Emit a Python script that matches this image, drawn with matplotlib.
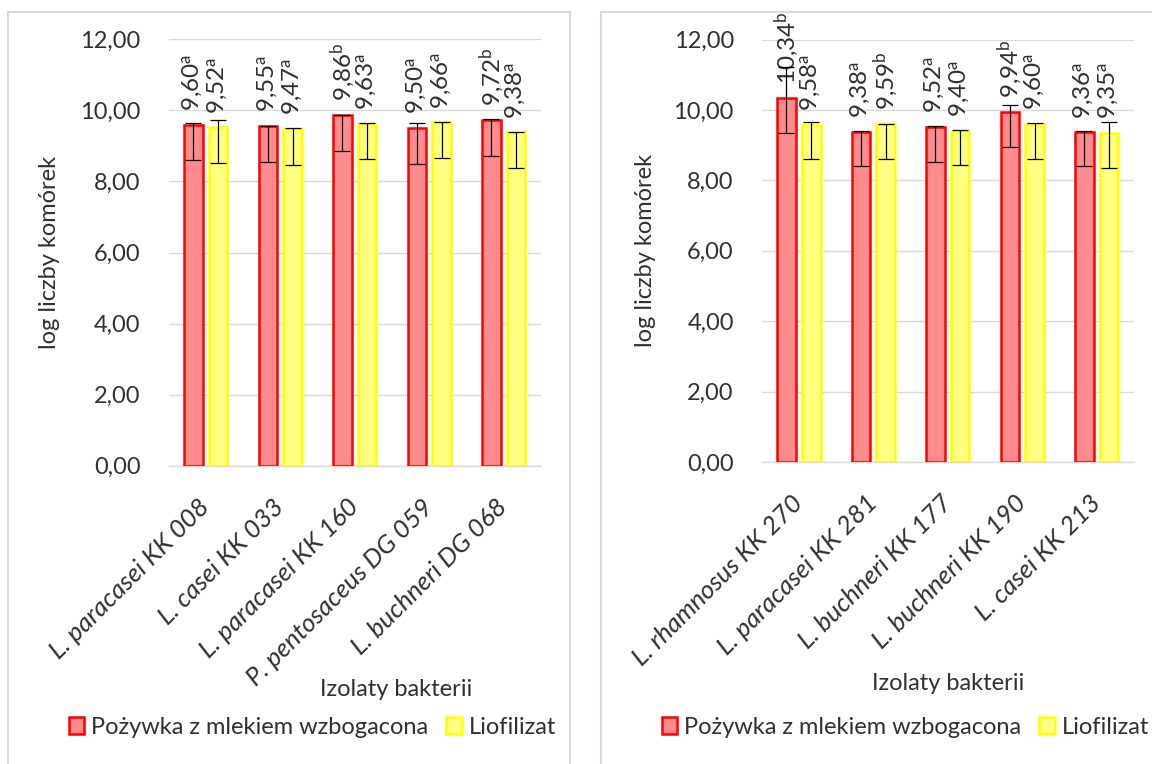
import matplotlib
matplotlib.use("Agg")
import matplotlib.pyplot as plt
from matplotlib.patches import Rectangle
from matplotlib.ticker import FuncFormatter, MultipleLocator
import numpy as np

# ---- data -------------------------------------------------------------
left_categories = ["L. paracasei KK 008", "L. casei KK 033", "L. paracasei KK 160",
                   "P. pentosaceus DG 059", "L. buchneri DG 068"]
left_medium = [9.60, 9.55, 9.86, 9.50, 9.72]
left_medium_letters = ["a", "a", "b", "a", "b"]
left_medium_low = [8.60, 8.56, 8.86, 8.49, 8.72]
left_medium_high = [9.65, 9.57, 9.87, 9.64, 9.76]
left_lyo = [9.52, 9.47, 9.63, 9.66, 9.38]
left_lyo_letters = ["a", "a", "a", "a", "a"]
left_lyo_low = [8.53, 8.45, 8.63, 8.67, 8.38]
left_lyo_high = [9.73, 9.51, 9.65, 9.68, 9.39]

right_categories = ["L. rhamnosus KK 270", "L. paracasei KK 281", "L. buchneri KK 177",
                    "L. buchneri KK 190", "L. casei KK 213"]
right_medium = [10.34, 9.38, 9.52, 9.94, 9.36]
right_medium_letters = ["b", "a", "a", "b", "a"]
right_medium_low = [9.34, 8.40, 8.53, 8.94, 8.40]
right_medium_high = [11.23, 9.41, 9.53, 10.13, 9.41]
right_lyo = [9.58, 9.59, 9.40, 9.60, 9.35]
right_lyo_letters = ["a", "b", "a", "a", "a"]
right_lyo_low = [8.61, 8.61, 8.43, 8.61, 8.36]
right_lyo_high = [9.67, 9.60, 9.44, 9.63, 9.66]

series_names = ["Pożywka z mlekiem wzbogacona", "Liofilizat"]
y_label = "log liczby komórek"
x_label = "Izolaty bakterii"

# ---- style ------------------------------------------------------------
FONT = "Lato"
plt.rcParams["font.family"] = [FONT, "DejaVu Sans"]
plt.rcParams["mathtext.fontset"] = "custom"
plt.rcParams["mathtext.rm"] = FONT
plt.rcParams["mathtext.it"] = FONT + ":italic"
TXT = "#303030"
GRID = "#D9D9D9"
RED_FILL, RED_EDGE = "#FF8C8C", "#FF0000"
YEL_FILL, YEL_EDGE = "#FFFF80", "#FFFF00"
FS = 17
FS_CAT = 18.5
FS_VAL = 17.5

W, H = 1152, 764
fig = plt.figure(figsize=(W / 100, H / 100), dpi=100)


def px_axes(x0, x1, y_top, y_bot):
    return fig.add_axes([x0 / W, 1 - y_bot / H, (x1 - x0) / W, (y_bot - y_top) / H])


def comma(v, digits=2):
    return f"{v:.{digits}f}".replace(".", ",")


def draw_panel(ax, cats, med, med_let, med_lo, med_hi, lyo, lyo_let, lyo_lo, lyo_hi,
               xlab_x):
    x = np.arange(len(cats))
    off, bw = 0.166, 0.25
    med = np.array(med); lyo = np.array(lyo)
    b1 = ax.bar(x - off, med, bw, color=RED_FILL, edgecolor=RED_EDGE, linewidth=1.8,
                zorder=3, label=series_names[0])
    b2 = ax.bar(x + off, lyo, bw, color=YEL_FILL, edgecolor=YEL_EDGE, linewidth=1.8,
                zorder=3, label=series_names[1])
    for xs, vals, lo, hi in ((x - off, med, med_lo, med_hi), (x + off, lyo, lyo_lo, lyo_hi)):
        yerr = [vals - np.array(lo), np.array(hi) - vals]
        ax.errorbar(xs, vals, yerr=yerr, fmt="none", ecolor="black", elinewidth=0.9,
                    capsize=6, capthick=0.9, zorder=4)
    for xs, vals, lets in ((x - off, med, med_let), (x + off, lyo, lyo_let)):
        for xi, v, l in zip(xs, vals, lets):
            ax.annotate(comma(v) + r"$^{\mathregular{" + l + "}}$", xy=(xi, v),
                        xytext=(0, 10), textcoords="offset points", rotation=90,
                        ha="center", va="bottom", fontsize=FS_VAL, color=TXT)

    ax.set_ylim(0, 12)
    ax.set_xlim(-0.5, len(cats) - 0.5)
    ax.yaxis.set_major_locator(MultipleLocator(2))
    ax.yaxis.set_major_formatter(FuncFormatter(lambda v, p: comma(v)))
    ax.grid(axis="y", color=GRID, linewidth=1.0, zorder=0)
    ax.set_axisbelow(True)
    for s in ("top", "right", "left"):
        ax.spines[s].set_visible(False)
    ax.spines["bottom"].set_color(GRID)
    ax.spines["bottom"].set_linewidth(1.0)
    ax.tick_params(axis="y", length=0, pad=20, labelsize=FS, labelcolor=TXT)
    ax.set_xticks(x)
    ax.set_xticklabels(cats, rotation=45, ha="right", va="center",
                       rotation_mode="anchor", fontstyle="italic", fontsize=FS_CAT,
                       color=TXT)
    ax.tick_params(axis="x", length=0, pad=27)
    ax.set_ylabel(y_label, fontsize=FS, color=TXT)
    ax.yaxis.set_label_coords(-0.292, 0.5)
    ax.set_xlabel(x_label, fontsize=FS, color=TXT)
    ax.xaxis.label.set_va("center")
    ax.xaxis.set_label_coords(xlab_x, -0.525)
    return b1, b2


axL = px_axes(168.5, 541, 39.3, 465.7)
axR = px_axes(761.6, 1134, 39.5, 462)

hL = draw_panel(axL, left_categories, left_medium, left_medium_letters, left_medium_low,
                left_medium_high, left_lyo, left_lyo_letters, left_lyo_low, left_lyo_high, 0.61)
hR = draw_panel(axR, right_categories, right_medium, right_medium_letters, right_medium_low,
                right_medium_high, right_lyo, right_lyo_letters, right_lyo_low, right_lyo_high, 0.5)
axR.yaxis.set_label_coords(-0.283, 0.5)

# chart frames
for x0, x1 in ((8, 570), (601, 1170)):
    fig.patches.append(Rectangle((x0 / W, -0.05), (x1 - x0) / W, 1.05 - 12 / H,
                                 transform=fig.transFigure, fill=False,
                                 edgecolor=GRID, linewidth=1.5))

# legends
for handles, x0 in ((hL, 57), (hR, 650)):
    fig.legend(handles, series_names, loc="center left",
               bbox_to_anchor=(x0 / W, 1 - 727 / H), bbox_transform=fig.transFigure,
               ncol=2, frameon=False, fontsize=FS, labelcolor=TXT, borderpad=0,
               handlelength=0.66, handleheight=0.72, handletextpad=0.3,
               columnspacing=0.75)

fig.savefig("out.png", dpi=100)
